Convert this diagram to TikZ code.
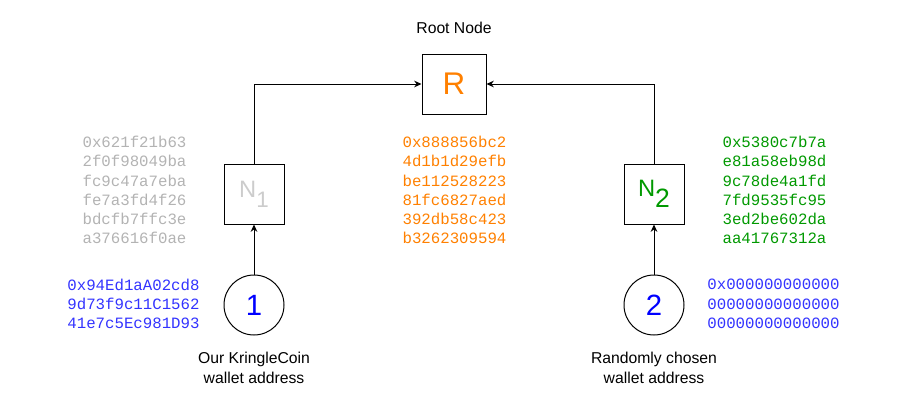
\documentclass[tikz,border=0pt]{standalone}
\usepackage{fontspec}
\setmainfont{Liberation Sans}
\setmonofont{Liberation Mono}
\usepackage{tikz}
\usetikzlibrary{positioning}
\usetikzlibrary{arrows.meta}

\definecolor{hashgray}{HTML}{B3B3B3}
\definecolor{leafgray}{HTML}{CCCCCC}
\definecolor{rootorange}{HTML}{FF8000}
\definecolor{leafgreen}{HTML}{009900}
\definecolor{addrblue}{HTML}{3333FF}

\begin{document}
\begin{tikzpicture}[x=0.75pt, y=-0.75pt,
        rootbox/.style={rectangle, draw=black, line width=0.75pt, minimum width=48pt, minimum height=45pt, inner sep=0pt, text=rootorange, font=\fontsize{23.5}{28}\selectfont},
        leafbox/.style={rectangle, draw=black, line width=0.75pt, minimum width=45pt, minimum height=45pt, inner sep=0pt, font=\fontsize{17.8}{21}\selectfont},
        wallet/.style={circle, draw=black, line width=0.75pt, minimum size=45pt, inner sep=0pt, text=blue, font=\fontsize{22}{26}\selectfont},
        hash/.style={align=left, inner sep=0pt, font=\ttfamily\fontsize{11.8}{14.4}\selectfont},
        caption/.style={align=center, inner sep=0pt, font=\fontsize{11.8}{15}\selectfont},
        link/.style={line width=0.75pt, -{Stealth[length=5.5pt, width=5pt]}}
      ]
        \useasboundingbox (0,0) rectangle (908,414);

        \node[rootbox]  (root)  at (454,84)                           {R};
        \node[leafbox]  (n1)    at (254,194)  [text=leafgray]          {N\raisebox{-7.5pt}{\fontsize{16.8}{20}\selectfont 1}};
        \node[leafbox]  (n2)    at (654,194)  [text=leafgreen]         {N\raisebox{-8pt}{\fontsize{19.9}{24}\selectfont 2}};
        \node[wallet]   (one)   [below=37.5pt of n1]                   {1};
        \node[wallet]   (two)   [below=37.5pt of n2]                   {2};

        \node[caption]  (rootlabel)  at (454,28)    {Root Node};
        \node[caption]  (ourlabel)   at (254,368)   {Our KringleCoin\\wallet address};
        \node[caption]  (randlabel)  at (654,368)   {Randomly chosen\\wallet address};

        \node[hash, text=hashgray]    (hashn1)   at (134.5,190)  {0x621f21b63\\2f0f98049ba\\fc9c47a7eba\\fe7a3fd4f26\\bdcfb7ffc3e\\a376616f0ae};
        \node[hash, text=rootorange]  (hashroot) at (454.5,190)  {0x888856bc2\\4d1b1d29efb\\be112528223\\81fc6827aed\\392db58c423\\b3262309594};
        \node[hash, text=leafgreen]   (hashn2)   at (774.5,190)  {0x5380c7b7a\\e81a58eb98d\\9c78de4a1fd\\7fd9535fc95\\3ed2be602da\\aa41767312a};
        \node[hash, text=addrblue]    (addrone)  at (133.5,304)  {0x94Ed1aA02cd8\\9d73f9c11C1562\\41e7c5Ec981D93};
        \node[hash, text=addrblue]    (addrtwo)  at (773.5,304)  {0x000000000000\\00000000000000\\00000000000000};

        \draw[link]  (one.north) -- (n1.south);
        \draw[link]  (two.north) -- (n2.south);
        \draw[link]  (n1.north) |- (root.west);
        \draw[link]  (n2.north) |- (root.east);
      \end{tikzpicture}
\end{document}
